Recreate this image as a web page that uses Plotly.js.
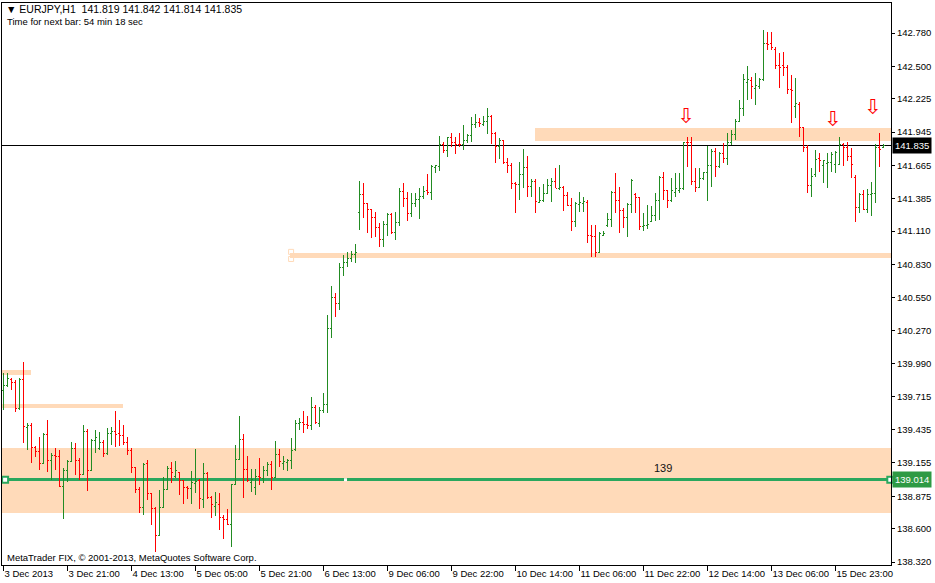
<!DOCTYPE html>
<html>
<head>
<meta charset="utf-8">
<script src="https://cdn.plot.ly/plotly-3.0.1.min.js"></script>
<style>
html,body{margin:0;padding:0;background:#fff;}
#chart{width:935px;height:583px;}
#chart .trace.ohlc path{shape-rendering:crispEdges !important;}
#chart .shapelayer path{shape-rendering:crispEdges;}
</style>
</head>
<body>
<div id="chart"></div>
<script>
// EURJPY H1 bars (index = bar number from the left edge)
const open = [139.770,139.812,139.862,139.837,139.618,139.862,139.458,139.475,139.289,139.255,
139.154,139.398,139.179,139.222,139.213,138.960,139.095,139.171,139.281,139.179,
139.061,139.424,139.095,139.348,139.281,139.331,139.239,139.407,139.424,139.407,
139.390,139.331,139.264,139.120,138.935,138.783,139.154,138.901,138.775,138.547,
138.783,138.935,139.112,139.044,139.078,139.011,138.952,138.943,138.986,139.011,
138.851,139.070,138.867,138.792,138.809,138.699,138.682,138.640,138.977,139.188,
139.356,139.104,138.994,138.952,139.044,139.028,139.095,139.145,139.036,139.230,
139.154,139.162,139.179,139.272,139.492,139.500,139.483,139.475,139.626,139.492,
139.601,139.651,140.293,140.554,140.503,140.807,140.849,140.883,140.916,141.270,
141.422,141.346,141.296,141.228,141.144,141.043,141.169,141.253,141.102,141.186,
141.448,141.389,141.262,141.346,141.380,141.405,141.456,141.439,141.642,141.658,
141.844,141.793,141.895,141.861,141.844,141.836,141.870,141.920,142.012,142.029,
142.012,142.038,142.080,141.937,141.827,141.870,141.692,141.667,141.515,141.507,
141.583,141.642,141.490,141.532,141.355,141.372,141.431,141.498,141.532,141.473,
141.481,141.414,141.330,141.195,141.338,141.346,141.355,141.077,141.068,140.933,
141.077,141.160,141.211,141.439,141.372,141.287,141.228,141.338,141.422,141.397,
141.152,141.161,141.195,141.245,141.372,141.566,141.456,141.372,141.439,141.456,
141.465,141.861,141.853,141.532,141.481,141.557,141.600,141.667,141.785,141.658,
141.768,141.726,141.861,141.928,142.038,142.147,142.367,142.383,142.316,142.332,
142.392,142.695,142.695,142.645,142.510,142.510,142.493,142.307,142.164,142.181,
141.987,141.819,141.498,141.583,141.726,141.667,141.684,141.692,141.675,141.675,
141.844,141.811,141.742,141.558,141.313,141.422,141.296,141.422,141.431,141.811,
141.819];
const high = [139.913,139.913,139.871,139.854,139.871,140.005,139.492,139.492,139.298,139.373,
139.407,139.517,139.239,139.281,139.264,139.112,139.179,139.331,139.323,139.196,
139.475,139.441,139.356,139.432,139.415,139.348,139.449,139.458,139.592,139.517,
139.475,139.373,139.281,139.125,138.952,139.154,139.179,138.905,138.783,138.926,
139.036,139.129,139.162,139.171,139.080,139.015,138.960,139.086,139.272,139.019,
139.154,139.075,138.876,138.909,138.901,138.716,138.766,138.977,139.306,139.551,
139.398,139.213,139.104,139.104,139.196,139.129,139.162,139.171,139.340,139.272,
139.213,139.185,139.365,139.517,139.534,139.592,139.551,139.711,139.643,139.626,
139.745,140.402,140.647,140.588,140.841,140.908,140.933,140.941,141.000,141.532,
141.515,141.350,141.300,141.270,141.178,141.195,141.262,141.262,141.270,141.473,
141.515,141.439,141.431,141.431,141.473,141.490,141.591,141.667,141.670,141.911,
141.861,141.903,141.937,141.903,141.937,142.004,141.928,142.071,142.096,142.063,
142.080,142.147,142.088,141.945,141.895,141.878,141.726,141.684,141.520,141.692,
141.802,141.743,141.549,141.549,141.481,141.507,141.549,141.557,141.642,141.667,
141.490,141.439,141.389,141.355,141.439,141.397,141.372,141.161,141.161,141.102,
141.110,141.262,141.445,141.600,141.481,141.304,141.346,141.549,141.431,141.400,
141.262,141.330,141.321,141.431,141.574,141.608,141.460,141.557,141.600,141.600,
141.861,141.903,141.903,141.642,141.642,141.608,141.827,141.802,141.811,141.776,
141.853,141.937,141.962,142.054,142.215,142.434,142.501,142.408,142.443,142.400,
142.805,142.788,142.788,142.662,142.611,142.619,142.510,142.426,142.400,142.198,
141.990,141.836,141.642,141.793,141.768,141.712,141.768,141.776,141.785,141.903,
141.853,141.861,141.811,141.583,141.431,141.456,141.465,141.523,141.844,141.937,
141.842];
const low = [139.601,139.795,139.770,139.584,139.605,139.323,139.264,139.154,139.205,139.095,
139.150,139.078,139.011,139.095,138.952,138.682,138.994,139.162,139.053,139.011,
139.053,138.918,139.090,139.239,139.264,139.205,139.222,139.306,139.289,139.298,
139.306,139.222,139.070,138.901,138.733,138.716,138.842,138.631,138.403,138.540,
138.775,138.930,138.986,139.028,138.884,138.809,138.850,138.809,138.901,138.766,
138.775,138.851,138.690,138.707,138.589,138.513,138.631,138.446,138.970,139.180,
138.859,138.994,138.909,138.884,138.969,138.986,139.044,138.926,139.030,139.120,
139.095,139.086,139.104,139.255,139.432,139.407,139.441,139.432,139.483,139.458,
139.576,139.576,140.208,140.385,140.444,140.731,140.807,140.849,140.841,141.119,
141.220,141.094,141.051,141.060,140.975,140.975,141.068,141.085,141.034,141.152,
141.312,141.195,141.228,141.312,141.211,141.380,141.414,141.372,141.600,141.617,
141.768,141.734,141.819,141.759,141.819,141.793,141.853,141.861,141.979,141.987,
141.995,141.928,141.844,141.684,141.717,141.675,141.600,141.465,141.262,141.372,
141.473,141.397,141.397,141.262,141.346,141.355,141.425,141.355,141.470,141.456,
141.279,141.325,141.111,141.144,141.270,141.270,141.009,140.891,140.891,140.925,
141.068,141.144,141.144,141.262,141.094,141.136,141.060,141.262,141.262,141.119,
141.110,141.127,141.186,141.195,141.203,141.372,141.304,141.355,141.397,141.431,
141.456,141.650,141.498,141.439,141.473,141.540,141.363,141.481,141.566,141.642,
141.684,141.667,141.836,141.878,142.030,142.079,142.215,142.223,142.172,142.307,
142.375,142.636,142.636,142.476,142.316,142.417,142.265,142.021,142.063,141.903,
141.776,141.431,141.397,141.566,141.608,141.515,141.473,141.608,141.600,141.667,
141.658,141.701,141.558,141.186,141.262,141.287,141.262,141.237,141.346,141.650,
141.814];
const close = [139.812,139.871,139.837,139.618,139.862,139.466,139.475,139.289,139.255,139.154,
139.398,139.179,139.222,139.213,138.960,139.095,139.171,139.281,139.179,139.061,
139.424,139.095,139.348,139.373,139.331,139.239,139.407,139.424,139.398,139.390,
139.331,139.264,139.120,138.935,138.783,139.145,138.901,138.775,138.547,138.783,
138.935,139.112,139.078,139.095,139.011,138.952,138.943,138.994,139.003,138.859,
139.070,138.867,138.809,138.825,138.699,138.682,138.640,138.977,139.188,139.356,
139.104,139.011,139.019,139.044,139.036,139.095,139.145,139.036,139.230,139.171,
139.171,139.179,139.264,139.492,139.500,139.483,139.475,139.626,139.500,139.601,
139.651,140.293,140.554,140.503,140.807,140.849,140.883,140.916,140.933,141.422,
141.346,141.296,141.228,141.144,141.043,141.169,141.253,141.102,141.186,141.448,
141.389,141.262,141.346,141.380,141.405,141.448,141.439,141.658,141.667,141.844,
141.793,141.895,141.861,141.844,141.836,141.870,141.920,142.012,142.029,142.021,
142.038,142.080,141.937,141.827,141.870,141.692,141.667,141.515,141.507,141.583,
141.642,141.490,141.532,141.363,141.372,141.431,141.498,141.532,141.473,141.481,
141.414,141.330,141.195,141.346,141.355,141.363,141.077,141.068,140.933,141.094,
141.094,141.211,141.439,141.372,141.287,141.228,141.338,141.540,141.397,141.152,
141.161,141.169,141.245,141.372,141.566,141.456,141.372,141.456,141.465,141.465,
141.855,141.853,141.532,141.481,141.557,141.600,141.667,141.785,141.658,141.768,
141.726,141.861,141.928,142.038,142.147,142.392,142.392,142.325,142.341,142.392,
142.695,142.687,142.662,142.510,142.493,142.493,142.307,142.299,142.189,141.987,
141.819,141.498,141.574,141.717,141.709,141.709,141.692,141.759,141.776,141.844,
141.811,141.742,141.675,141.313,141.422,141.296,141.422,141.431,141.811,141.800,
141.835];

// time-axis labels (bar index -> label)
const timeTickBars = [0,16,32,48,64,80,96,112,128,144,160,176,192,208];
const timeTickLabels = ["3 Dec 2013","3 Dec 21:00","4 Dec 13:00","5 Dec 05:00","5 Dec 21:00","6 Dec 13:00",
  "9 Dec 06:00","9 Dec 22:00","10 Dec 14:00","11 Dec 06:00","11 Dec 22:00","12 Dec 14:00","13 Dec 06:00","15 Dec 23:00"];
// price-axis labels
const priceTicks = [142.780,142.500,142.225,141.945,141.665,141.385,141.110,140.830,140.550,140.270,
  139.990,139.715,139.435,139.155,138.875,138.600,138.320];

// supply/demand rectangles (bar index from/to, price from/to)
const zoneBarFrom = [-1, -1, -1, 71.7, 132.9];
const zoneBarTo   = [230, 6.9, 29.9, 230, 230];
const zoneLow     = [138.732, 139.896, 139.618, 140.883, 141.869];
const zoneHigh    = [139.281, 139.938, 139.652, 140.925, 141.979];

// horizontal level and current price
const levelPrice = 139.014;
const levelLabel = "139";
const levelLabelBar = 164.9, levelLabelPrice = 139.112;
const lastPrice = 141.835;

// down-arrow signals
const arrowBars = [170.7, 207.4, 217.4];
const arrowPrices = [142.063, 142.038, 142.139];

const x = open.map((_, i) => i);

const GREEN = '#228B22', RED = '#FF0000', PEACH = '#FFDAB9', LVL = '#2AA75E', LVLBOX = '#2E9A44';
const FONT = 'Liberation Sans, Arial, sans-serif';

const traces = [
  {
    type: 'ohlc', x: x, open: open, high: high, low: low, close: close,
    increasing: {line: {color: GREEN, width: 1}},
    decreasing: {line: {color: RED, width: 1}},
    tickwidth: 0.4, hoverinfo: 'skip', showlegend: false
  },
  {
    type: 'scatter', mode: 'text', x: arrowBars, y: arrowPrices,
    text: arrowBars.map(() => '⇩'),
    textfont: {family: 'DejaVu Sans', size: 21, color: RED},
    hoverinfo: 'skip', showlegend: false
  },
  {
    type: 'scatter', mode: 'markers', x: [0.4, 221.7], y: [levelPrice, levelPrice],
    marker: {symbol: 'square', size: 6, color: '#ffffff', line: {color: LVL, width: 2}},
    hoverinfo: 'skip', showlegend: false, cliponaxis: false
  },
  {
    type: 'scatter', mode: 'markers', x: [85.5], y: [levelPrice],
    marker: {symbol: 'square', size: 3, color: '#ffffff', line: {width: 0}},
    hoverinfo: 'skip', showlegend: false
  },
  {
    type: 'scatter', mode: 'markers', x: [71.9, 71.9], y: [zoneHigh[3] + 0.01, zoneLow[3] - 0.008],
    marker: {symbol: 'square-open', size: 5, color: PEACH, line: {width: 1}},
    hoverinfo: 'skip', showlegend: false
  }
];

const shapes = zoneBarFrom.map((x0, k) => ({
  type: 'rect', xref: 'x', yref: 'y', x0: x0, x1: zoneBarTo[k], y0: zoneLow[k], y1: zoneHigh[k],
  fillcolor: PEACH, line: {width: 0}, layer: 'below'
}));
shapes.push({type: 'line', xref: 'x', yref: 'y', x0: -1, x1: 230, y0: levelPrice, y1: levelPrice,
  line: {color: LVL, width: 2.5}, layer: 'below'});
shapes.push({type: 'line', xref: 'x', yref: 'y', x0: -1, x1: 230, y0: lastPrice, y1: lastPrice,
  line: {color: '#000000', width: 1}, layer: 'below'});

const PX = (px) => (px - 2) / 889, PY = (py) => (565 - py) / 562;

const annotations = [
  {xref: 'paper', yref: 'paper', x: PX(4), y: PY(8.5), xanchor: 'left', yanchor: 'middle', showarrow: false,
   text: '▼ EURJPY,H1  141.819 141.842 141.814 141.835', font: {family: FONT, size: 10.5, color: '#000'}},
  {xref: 'paper', yref: 'paper', x: PX(5), y: PY(22), xanchor: 'left', yanchor: 'middle', showarrow: false,
   text: 'Time for next bar: 54 min 18 sec', font: {family: FONT, size: 9.5, color: '#000'}},
  {xref: 'paper', yref: 'paper', x: PX(5), y: PY(557), xanchor: 'left', yanchor: 'middle', showarrow: false,
   text: 'MetaTrader FIX, © 2001-2013, MetaQuotes Software Corp.', font: {family: FONT, size: 9.5, color: '#000'}},
  {xref: 'x', yref: 'y', x: levelLabelBar, y: levelLabelPrice, showarrow: false, text: levelLabel,
   font: {family: FONT, size: 11, color: '#111'}},
  {xref: 'paper', yref: 'y', x: 1, y: lastPrice, xanchor: 'left', yanchor: 'middle', xshift: 1, showarrow: false,
   text: lastPrice.toFixed(3), bgcolor: '#000000', borderpad: 2, font: {family: FONT, size: 9.5, color: '#ffffff'}},
  {xref: 'paper', yref: 'y', x: 1, y: levelPrice, xanchor: 'left', yanchor: 'middle', xshift: 1, showarrow: false,
   text: levelPrice.toFixed(3), bgcolor: LVLBOX, borderpad: 2, font: {family: FONT, size: 9.5, color: '#ffffff'}}
];

const layout = {
  width: 935, height: 583,
  margin: {l: 2, r: 44, t: 3, b: 18, pad: 0},
  paper_bgcolor: '#ffffff', plot_bgcolor: '#ffffff',
  showlegend: false,
  font: {family: FONT, size: 9.5, color: '#000'},
  xaxis: {
    type: 'linear', range: [-0.375, 221.875], rangeslider: {visible: false},
    showgrid: false, zeroline: false, showline: true, linecolor: '#000', linewidth: 1, mirror: true,
    ticks: 'outside', ticklen: 5, tickwidth: 1, tickcolor: '#000', tickangle: 0,
    tickvals: timeTickBars, ticktext: timeTickLabels, ticklabelposition: 'outside right',
    tickfont: {family: FONT, size: 9.5, color: '#000'}, fixedrange: true, automargin: false
  },
  yaxis: {
    side: 'right', range: [138.295, 143.033],
    showgrid: false, zeroline: false, showline: true, linecolor: '#000', linewidth: 1, mirror: true,
    ticks: 'outside', ticklen: 3, tickwidth: 1, tickcolor: '#000',
    tickvals: priceTicks, ticktext: priceTicks.map(v => v.toFixed(3)),
    tickfont: {family: FONT, size: 9.5, color: '#000'}, fixedrange: true, automargin: false
  },
  shapes: shapes,
  annotations: annotations
};

Plotly.newPlot('chart', traces, layout, {staticPlot: true, displayModeBar: false});
</script>
</body>
</html>
